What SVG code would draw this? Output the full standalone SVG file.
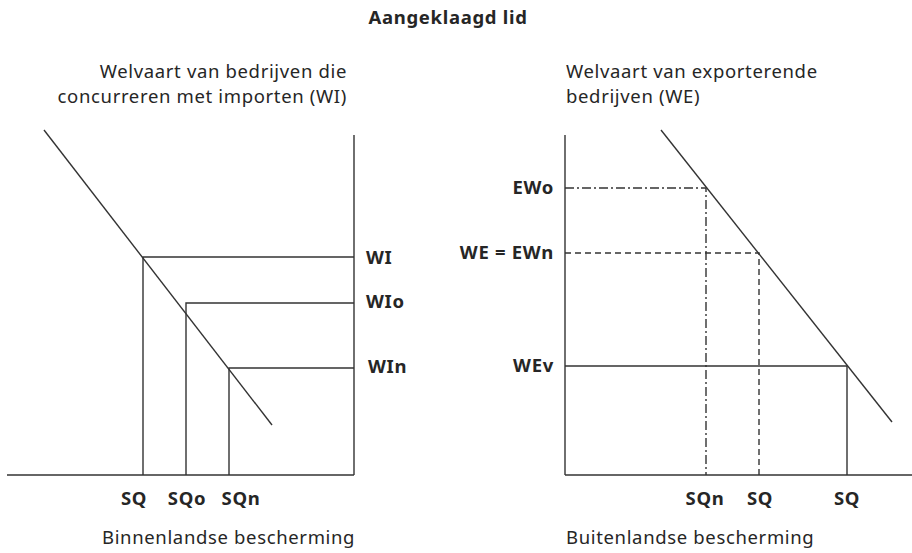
<svg xmlns="http://www.w3.org/2000/svg" width="912" height="553" viewBox="0 0 912 553">
<style>
text{font-family:"Noto Sans","Open Sans",sans-serif;fill:#262626}
.b{font-weight:bold;font-size:18.5px;letter-spacing:0.7px}
.r{font-size:18.5px;letter-spacing:0.65px}
.ln{stroke:#333;stroke-width:1.4;fill:none}
.dd{stroke-dasharray:9 3 2 3}
.ds{stroke-dasharray:6 4}
</style>
<rect width="912" height="553" fill="#fff"/>
<g id="title"><text class="b" x="448" y="24" text-anchor="middle">Aangeklaagd lid</text></g>
<g id="left-panel">
<g id="left-axes">
<line class="ln" x1="7" y1="475" x2="354" y2="475"/>
<line class="ln" x1="354" y1="135" x2="354" y2="475"/>
</g>
<g id="left-curve"><line class="ln" x1="44" y1="130" x2="272" y2="425"/></g>
<g id="left-ylabel">
<text class="r" x="347" y="77.5" text-anchor="end">Welvaart van bedrijven die</text>
<text class="r" x="347" y="103" text-anchor="end">concurreren met importen (WI)</text>
</g>
<g id="WI"><path class="ln" d="M354,257 H143 V475"/><text class="b" x="366" y="264">WI</text></g>
<g id="WIo"><path class="ln" d="M354,303 H186 V475"/><text class="b" x="366" y="308">WIo</text></g>
<g id="WIn"><path class="ln" d="M354,368 H229 V475"/><text class="b" x="368" y="373">WIn</text></g>
<g id="left-xlabels">
<text class="b" x="134" y="505" text-anchor="middle">SQ</text>
<text class="b" x="187" y="505" text-anchor="middle">SQo</text>
<text class="b" x="241" y="505" text-anchor="middle">SQn</text>
<text class="r" x="102" y="544">Binnenlandse bescherming</text>
</g>
</g>
<g id="right-panel">
<g id="right-axes">
<line class="ln" x1="565" y1="475" x2="912" y2="475"/>
<line class="ln" x1="565" y1="135" x2="565" y2="475"/>
</g>
<g id="right-curve"><line class="ln" x1="661" y1="130" x2="892" y2="422"/></g>
<g id="right-ylabel">
<text class="r" x="566" y="77.5">Welvaart van exporterende</text>
<text class="r" x="566" y="103">bedrijven (WE)</text>
</g>
<g id="EWo"><path class="ln dd" d="M565,188 H706 V475"/><text class="b" x="554" y="194" text-anchor="end">EWo</text></g>
<g id="EWn"><path class="ln ds" d="M565,253 H759 V475"/><text class="b" x="554" y="259" text-anchor="end">WE = EWn</text></g>
<g id="WEv"><path class="ln" d="M565,366 H847 V475"/><text class="b" x="554" y="372" text-anchor="end">WEv</text></g>
<g id="right-xlabels">
<text class="b" x="705" y="505" text-anchor="middle">SQn</text>
<text class="b" x="760" y="505" text-anchor="middle">SQ</text>
<text class="b" x="847" y="505" text-anchor="middle">SQ</text>
<text class="r" x="566" y="544">Buitenlandse bescherming</text>
</g>
</g>
</svg>
